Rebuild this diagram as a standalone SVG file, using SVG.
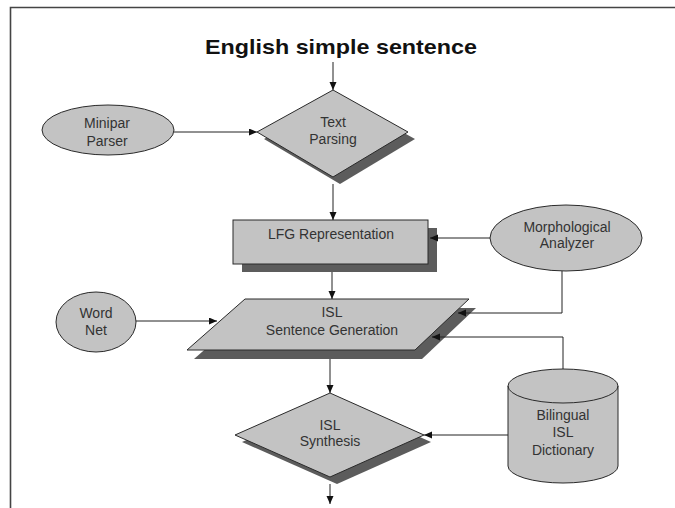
<svg xmlns="http://www.w3.org/2000/svg" width="675" height="508" viewBox="0 0 675 508">
<style>
.shape{fill:#c3c3c3;stroke:#2a2a2a;stroke-width:1}
.shadow{fill:#5c5c5c;stroke:none}
.lbl{font-family:"Liberation Sans",Arial,sans-serif;font-size:14px;fill:#333;text-anchor:middle}
.conn{fill:none;stroke:#222;stroke-width:1}
</style>
<defs>
<marker id="arr" markerUnits="userSpaceOnUse" markerWidth="10" markerHeight="8" refX="8" refY="3.5" orient="auto">
<path d="M0,0 L8,3.5 L0,7 z" fill="#111"/>
</marker>
</defs>
<rect width="675" height="508" fill="#fff"/>
<path d="M10.5,508 V7.5 H675" fill="none" stroke="#444" stroke-width="1.6"/>
<text x="341" y="54" font-family="Liberation Sans,Arial,sans-serif" font-weight="bold" font-size="21" text-anchor="middle" textLength="272" lengthAdjust="spacingAndGlyphs" fill="#111">English simple sentence</text>

<g id="minipar">
<ellipse class="shape" cx="108" cy="130" rx="66" ry="25"/>
<text class="lbl" x="107" y="128">Minipar</text>
<text class="lbl" x="107" y="146">Parser</text>
</g>
<g id="text-parsing">
<polygon class="shadow" points="339,97 415,139 340,184 264,139"/>
<polygon class="shape" points="333,90 408,132 333,177 257,132"/>
<text class="lbl" x="333" y="127">Text</text>
<text class="lbl" x="333" y="144">Parsing</text>
</g>
<g id="lfg">
<rect class="shadow" x="242" y="228" width="195" height="44"/>
<rect class="shape" x="233" y="220" width="195" height="44"/>
<text class="lbl" x="331" y="239">LFG Representation</text>
</g>
<g id="morph">
<ellipse class="shape" cx="566" cy="238" rx="76" ry="33"/>
<text class="lbl" x="567" y="232">Morphological</text>
<text class="lbl" x="567" y="248">Analyzer</text>
</g>
<g id="wordnet">
<ellipse class="shape" cx="96" cy="322" rx="40" ry="30"/>
<text class="lbl" x="96" y="318">Word</text>
<text class="lbl" x="96" y="335">Net</text>
</g>
<g id="isl-gen">
<polygon class="shadow" points="252,308 476,308 422,359 194,359"/>
<polygon class="shape" points="245,299 469,299 415,350 187,350"/>
<text class="lbl" x="332" y="317">ISL</text>
<text class="lbl" x="332" y="335">Sentence Generation</text>
</g>
<g id="isl-synth">
<polygon class="shadow" points="337,400 431,442 337,484 242,442"/>
<polygon class="shape" points="330,393 424,435 330,477 235,435"/>
<text class="lbl" x="330" y="430">ISL</text>
<text class="lbl" x="330" y="446">Synthesis</text>
</g>
<g id="dictionary">
<path class="shape" d="M508,386 V466 A55,17 0 0 0 618,466 V386 A55,17 0 0 0 508,386 Z"/>
<path d="M508,386 A55,17 0 0 0 618,386" fill="none" stroke="#2a2a2a" stroke-width="1"/>
<text class="lbl" x="563" y="420">Bilingual</text>
<text class="lbl" x="563" y="437">ISL</text>
<text class="lbl" x="563" y="455">Dictionary</text>
</g>

<g id="connectors">
<path class="conn" d="M333,62 V90" marker-end="url(#arr)"/>
<path class="conn" d="M174,132 H257" marker-end="url(#arr)"/>
<path class="conn" d="M333,184 V220" marker-end="url(#arr)"/>
<path class="conn" d="M490,238 H430" marker-end="url(#arr)"/>
<path class="conn" d="M332,272 V299" marker-end="url(#arr)"/>
<path class="conn" d="M136,321 H217" marker-end="url(#arr)"/>
<path class="conn" d="M562,271 V313 H458" marker-end="url(#arr)"/>
<path class="conn" d="M563,369 V337 H432" marker-end="url(#arr)"/>
<path class="conn" d="M330,359 V393" marker-end="url(#arr)"/>
<path class="conn" d="M508,435 H424" marker-end="url(#arr)"/>
<path class="conn" d="M330,484 V504" marker-end="url(#arr)"/>
</g>
</svg>
